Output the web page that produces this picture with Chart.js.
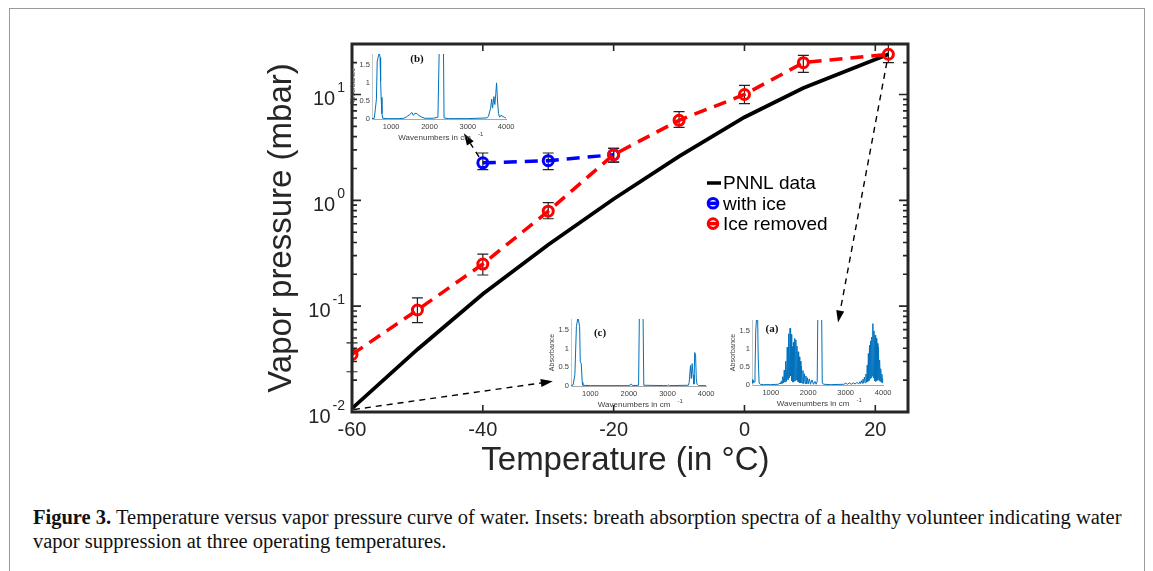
<!DOCTYPE html>
<html>
<head>
<meta charset="utf-8">
<script src="https://cdn.jsdelivr.net/npm/chart.js@4.4.1/dist/chart.umd.min.js"></script>
<style>
  html, body { margin: 0; padding: 0; background: #fff; }
  body { width: 1153px; height: 571px; position: relative; overflow: hidden; }
  #frame { position: absolute; left: 9px; top: 8px; width: 1134px; height: 590px; border: 1px solid #9a9a9a; }
  canvas { position: absolute; }
  #caption { position: absolute; left: 33px; top: 505px; font-family: "Liberation Serif", "Times New Roman", serif;
             font-size: 20.5px; line-height: 24px; color: #111; white-space: nowrap; }
</style>
</head>
<body>
<div id="frame"></div>
<canvas id="main" width="1153" height="490" style="left:0;top:0"></canvas>
<canvas id="insetB"></canvas>
<canvas id="insetC"></canvas>
<canvas id="insetA"></canvas>
<div id="caption"><b>Figure 3.</b> Temperature versus vapor pressure curve of water. Insets: breath absorption spectra of a healthy volunteer indicating water<br>vapor suppression at three operating temperatures.</div>
<script>
// main plot data (temperature in °C, pressure in mbar)
const temps = [-60, -50, -40, -30, -20, -10, 0, 9, 22];
const pnnl = [0.0108, 0.039, 0.13, 0.38, 1.03, 2.6, 6.1, 11.5, 24];
const iceRemoved = [0.035, 0.092, 0.25, 0.79, 2.7, 5.7, 10, 20, 24];
const iceRemovedLow = [0.024, 0.070, 0.197, 0.67, 2.3, 4.9, 8.2, 16.2, 20];
const iceRemovedHigh = [0.045, 0.12, 0.31, 0.95, 3.1, 6.9, 12.2, 23.4, 29.8];
const tempsIce = [-40, -30, -20];
const withIce = [2.26, 2.37, 2.7];
const withIceLow = [1.95, 1.95, 2.3];
const withIceHigh = [2.8, 2.8, 3.1];
const xTicks = [-60, -40, -20, 0, 20];
const yTicks = [0.01, 0.1, 1, 10];

// inset spectra [wavenumber, absorbance]
const insetXTicks = [1000, 2000, 3000, 4000];
const insetYTicks = [0, 0.5, 1, 1.5];
const spectrumB = [[500,0.01],[560,0.02],[590,0.3],[615,0.55],[636,1.6],[660,1.7],[690,1.85],[710,1.7],[725,1.05],[738,0.6],
  [760,0.15],[780,0.02],[900,0.01],[1200,0.01],[1330,0.02],[1400,0.06],[1480,0.12],[1543,0.18],[1580,0.1],[1620,0.16],
  [1670,0.15],[1720,0.1],[1797,0.05],[1880,0.02],[2100,0.02],[2220,0.05],[2264,2.5],[2360,2.5],[2380,0.03],[2500,0.01],
  [3000,0.01],[3500,0.03],[3540,0.08],[3594,0.3],[3622,0.55],[3645,0.3],[3680,0.62],[3705,0.4],[3730,0.7],[3750,1.0],
  [3775,0.5],[3800,0.15],[3830,0.05],[3860,0.1],[3900,0.08],[3950,0.05],[4000,0.02]];
const spectrumC = [[500,0.01],[554,0.03],[600,0.3],[640,1.6],[681,1.85],[723,1.6],[740,0.65],[766,0.6],[790,0.1],[806,0.02],
  [1000,0.01],[2000,0.01],[2066,0.05],[2090,0.01],[2250,0.02],[2277,2.5],[2360,2.5],[2385,0.02],[3000,0.01],[3020,0.03],
  [3040,0.01],[3540,0.02],[3561,0.1],[3594,0.55],[3615,0.2],[3637,0.6],[3660,0.3],[3685,0.05],[3703,0.9],[3725,0.85],
  [3745,0.2],[3763,0.05],[3800,0.01],[4000,0.01]];
const spectrumA = [[500,0.15],[520,0.05],[540,0.12],[560,0.08],[580,0.3],[600,1.5],[625,1.9],[650,1.9],[665,0.8],[690,0.05],
  [720,0.02],[800,0.01],[1000,0.01],[1200,0.02],[1250,0.05],
  [1260,0.03],[1280,0.10],[1300,0.04],[1320,0.23],[1340,0.06],[1360,0.41],[1380,0.08],[1400,0.66],[1420,0.10],[1440,1.05],
  [1460,0.15],[1480,1.42],[1500,0.2],[1515,1.57],[1530,0.25],[1545,1.40],[1560,0.12],[1575,1.06],[1590,0.08],[1605,1.18],
  [1620,0.1],[1640,1.29],[1655,0.12],[1670,1.25],[1685,0.15],[1700,1.08],[1715,0.1],[1730,0.92],[1745,0.08],[1760,0.78],
  [1775,0.06],[1790,0.66],[1805,0.06],[1820,0.52],[1840,0.05],[1860,0.40],[1880,0.04],[1900,0.31],[1920,0.04],[1940,0.25],
  [1960,0.03],[1980,0.2],[2000,0.03],[2030,0.17],[2060,0.02],[2100,0.14],[2140,0.02],[2180,0.1],[2210,0.02],[2240,0.1],
  [2265,3],[2350,3],[2375,0.05],[2420,0.02],[2600,0.01],[2950,0.02],[3000,0.05],[3050,0.02],[3100,0.06],[3150,0.02],
  [3200,0.06],[3250,0.03],[3300,0.07],[3350,0.03],
  [3380,0.09],[3400,0.04],[3420,0.12],[3440,0.05],[3460,0.16],[3480,0.05],[3500,0.22],[3520,0.06],[3540,0.3],[3560,0.08],
  [3575,0.55],[3590,0.1],[3605,0.87],[3620,0.12],[3635,1.1],[3650,0.18],[3665,1.22],[3680,0.2],[3695,1.33],[3710,0.25],
  [3725,1.70],[3740,0.2],[3755,1.5],[3770,0.12],[3785,1.38],[3800,0.1],[3815,1.29],[3830,0.12],[3845,1.15],[3860,0.15],
  [3875,1.05],[3890,0.12],[3905,0.69],[3920,0.1],[3935,0.45],[3950,0.08],[3965,0.3],[3980,0.06],[3995,0.18],[4000,0.09]];

const axisColor = '#262626';
const sans = '"Liberation Sans", Arial, sans-serif';
Chart.defaults.font.family = sans;
Chart.defaults.color = axisColor;

// dashed arrows from points to insets, in data units of the main axes
const arrows = [
  { from: [-40, 2.26], to: [-42.9, 4.3], gap: 7 },
  { from: [-60, 0.0105], to: [-29.3, 0.0195], gap: 2 },
  { from: [22, 24], to: [14.3, 0.07], gap: 8 }
];

const errorBars = {
  id: 'errorBars',
  beforeDatasetsDraw(chart) {
    const { ctx, scales: { x, y } } = chart;
    ctx.save();
    ctx.strokeStyle = '#222';
    ctx.lineWidth = 1.2;
    [[temps, iceRemovedLow, iceRemovedHigh], [tempsIce, withIceLow, withIceHigh]].forEach(([xs, lo, hi]) => {
      xs.forEach((t, i) => {
        const px = x.getPixelForValue(t);
        const p1 = y.getPixelForValue(lo[i]), p2 = y.getPixelForValue(hi[i]);
        ctx.beginPath();
        ctx.moveTo(px, p1); ctx.lineTo(px, p2);
        ctx.moveTo(px - 5.5, p1); ctx.lineTo(px + 5.5, p1);
        ctx.moveTo(px - 5.5, p2); ctx.lineTo(px + 5.5, p2);
        ctx.stroke();
      });
    });
    ctx.restore();
  }
};

const axesBox = {
  id: 'axesBox',
  afterDraw(chart) {
    const { ctx, chartArea: a, scales: { x, y } } = chart;
    ctx.save();
    ctx.strokeStyle = axisColor;
    ctx.lineWidth = 1.6;
    ctx.beginPath();
    xTicks.forEach(v => {
      const px = x.getPixelForValue(v);
      ctx.moveTo(px, a.bottom); ctx.lineTo(px, a.bottom - 7);
      ctx.moveTo(px, a.top); ctx.lineTo(px, a.top + 7);
    });
    for (let d = -2; d <= 1; d++) {
      for (let k = 1; k <= 9; k++) {
        const v = k * Math.pow(10, d);
        if (v > y.max) break;
        const py = y.getPixelForValue(v);
        const len = k === 1 ? 9 : 5;
        ctx.moveTo(a.left, py); ctx.lineTo(a.left + len, py);
        ctx.moveTo(a.right, py); ctx.lineTo(a.right - len, py);
      }
    }
    ctx.stroke();
    ctx.lineWidth = 3;
    ctx.strokeRect(a.left, a.top, a.right - a.left, a.bottom - a.top);

    // y tick labels 10^n
    ctx.fillStyle = axisColor;
    ctx.textBaseline = 'middle';
    ctx.textAlign = 'right';
    yTicks.forEach(v => {
      const py = y.getPixelForValue(v);
      const e = String(Math.round(Math.log10(v)));
      ctx.font = '14px ' + sans;
      const ew = ctx.measureText(e).width;
      ctx.fillText(e, a.left - 7, py - 6);
      ctx.font = '20px ' + sans;
      ctx.fillText('10', a.left - 9 - ew, py + 5);
    });

    // arrows
    ctx.strokeStyle = '#000';
    ctx.fillStyle = '#000';
    arrows.forEach(ar => {
      let x1 = x.getPixelForValue(ar.from[0]), y1 = y.getPixelForValue(ar.from[1]);
      const x2 = x.getPixelForValue(ar.to[0]), y2 = y.getPixelForValue(ar.to[1]);
      const ang = Math.atan2(y2 - y1, x2 - x1);
      x1 += ar.gap * Math.cos(ang); y1 += ar.gap * Math.sin(ang);
      const hl = 12, hw = 4;
      const bx = x2 - hl * Math.cos(ang), by = y2 - hl * Math.sin(ang);
      ctx.lineWidth = 1.4;
      ctx.setLineDash([6, 5]);
      ctx.beginPath(); ctx.moveTo(x1, y1); ctx.lineTo(bx, by); ctx.stroke();
      ctx.setLineDash([]);
      ctx.beginPath();
      ctx.moveTo(x2, y2);
      ctx.lineTo(bx + hw * Math.sin(ang), by - hw * Math.cos(ang));
      ctx.lineTo(bx - hw * Math.sin(ang), by + hw * Math.cos(ang));
      ctx.closePath(); ctx.fill();
    });

    // legend
    const lx = a.left + 355, ly = a.top + 139;
    [2, 1, 0].forEach((di, row) => {
      const ds = chart.data.datasets[di];
      const yy = ly + row * 20.3;
      ctx.strokeStyle = ds.borderColor;
      ctx.setLineDash([]);
      ctx.lineWidth = 3.5;
      ctx.beginPath();
      if (ds.pointRadius) { ctx.moveTo(lx, yy); ctx.lineTo(lx + 12, yy); }
      else { ctx.moveTo(lx, yy); ctx.lineTo(lx + 14, yy); }
      ctx.stroke();
      if (ds.pointRadius) {
        ctx.lineWidth = 3;
        ctx.beginPath(); ctx.arc(lx + 6, yy, 4.8, 0, 2 * Math.PI); ctx.stroke();
      }
      ctx.fillStyle = '#000';
      ctx.font = '19px ' + sans;
      ctx.textAlign = 'left';
      ctx.fillText(ds.label, lx + 16, yy + 1);
    });
    ctx.restore();
  }
};

const pts = (xs, ys) => xs.map((v, i) => ({ x: v, y: ys[i] }));

new Chart(document.getElementById('main'), {
  type: 'line',
  data: {
    datasets: [
      { label: 'Ice removed', data: pts(temps, iceRemoved), borderColor: '#ff0000', borderWidth: 3.5,
        borderDash: [13, 8], pointRadius: 5, pointBorderWidth: 3, pointBackgroundColor: 'rgba(0,0,0,0)',
        pointBorderColor: '#ff0000' },
      { label: 'with ice', data: pts(tempsIce, withIce), borderColor: '#0000ff', borderWidth: 3.5,
        borderDash: [13, 8], pointRadius: 5, pointBorderWidth: 3, pointBackgroundColor: 'rgba(0,0,0,0)',
        pointBorderColor: '#0000ff' },
      { label: 'PNNL data', data: pts(temps, pnnl), borderColor: '#000000', borderWidth: 3.8, pointRadius: 0 }
    ]
  },
  options: {
    responsive: false,
    animation: false,
    events: [],
    layout: { padding: { left: 262, top: 44, right: 245, bottom: 9 } },
    plugins: { legend: { display: false }, tooltip: { enabled: false } },
    scales: {
      x: {
        type: 'linear', min: -60, max: 25,
        afterBuildTicks: s => { s.ticks = xTicks.map(v => ({ value: v })); },
        afterFit: s => { s.height = 69; },
        grid: { display: false, drawTicks: false },
        border: { display: false },
        ticks: { font: { size: 20 }, padding: 6, maxRotation: 0, autoSkip: false },
        title: { display: true, text: 'Temperature (in °C) ', font: { size: 33 }, padding: 0 }
      },
      y: {
        type: 'logarithmic', min: 0.01, max: 30,
        afterFit: s => { s.width = 90; },
        grid: { display: false, drawTicks: false },
        border: { display: false },
        ticks: { display: false },
        title: { display: true, text: 'Vapor pressure (mbar)', font: { size: 33 }, padding: 0 }
      }
    }
  },
  plugins: [errorBars, axesBox]
});

// inset spectra
function inset(id, spectrum, tag, area, tagPos) {
  const cv = document.getElementById(id);
  const w = area.r - area.l + 23 + 8, h = area.b - area.t + 8 + 24;
  cv.width = w; cv.height = h;
  cv.style.left = (area.l - 23) + 'px';
  cv.style.top = (area.t - 8) + 'px';
  const extras = {
    id: 'insetExtras',
    afterDraw(chart) {
      const { ctx, chartArea: a } = chart;
      ctx.save();
      ctx.font = '8px ' + sans;
      const tw = ctx.measureText('Wavenumbers in cm').width;
      const sw = ctx.measureText('Wavenumbers in cm    ').width;
      const cx = (a.left + a.right) / 2;
      ctx.fillStyle = '#404040';
      ctx.textBaseline = 'middle';
      ctx.font = '6px ' + sans;
      ctx.fillText('-1', cx - sw / 2 + tw + 7, chart.height - 9);
      ctx.font = 'bold 11px "Liberation Serif", serif';
      ctx.fillStyle = '#111';
      ctx.textAlign = 'center';
      ctx.fillText(tag, a.left + tagPos[0], a.top + tagPos[1]);
      ctx.restore();
    }
  };
  new Chart(cv, {
    type: 'line',
    data: { datasets: [{ data: spectrum.map(p => ({ x: p[0], y: p[1] })), borderColor: '#0072BD',
      borderWidth: 1, pointRadius: 0, tension: 0 }] },
    options: {
      responsive: false, animation: false, events: [],
      layout: { padding: { left: 0, top: 8, right: 8, bottom: 0 } },
      plugins: { legend: { display: false }, tooltip: { enabled: false } },
      scales: {
        x: {
          type: 'linear', min: 500, max: 4000,
          afterBuildTicks: s => { s.ticks = insetXTicks.map(v => ({ value: v })); },
          afterFit: s => { s.height = 24; },
          grid: { display: false, drawTicks: false },
          border: { color: '#a8a8a8', width: 1 },
          ticks: { font: { size: 7.5 }, color: '#404040', padding: 3.5, maxRotation: 0, autoSkip: false,
                   callback: v => String(v) },
          title: { display: true, text: 'Wavenumbers in cm    ', font: { size: 8 }, color: '#404040', padding: 0 }
        },
        y: {
          min: 0, max: 1.8,
          afterBuildTicks: s => { s.ticks = insetYTicks.map(v => ({ value: v })); },
          afterFit: s => { s.width = 23; },
          grid: { display: false, drawTicks: false },
          border: { color: '#c8c8c8', width: 1 },
          ticks: { font: { size: 7.5 }, color: '#404040', padding: 2, callback: v => String(v) },
          title: { display: true, text: 'Absorbance', font: { size: 7 }, color: '#404040', padding: 0 }
        }
      }
    },
    plugins: [extras]
  });
}

inset('insetB', spectrumB, '(b)', { l: 372, t: 54, r: 510, b: 119 }, [45, 5]);
inset('insetC', spectrumC, '(c)', { l: 571, t: 319, r: 710, b: 386 }, [29, 14]);
inset('insetA', spectrumA, '(a)', { l: 752, t: 320, r: 887, b: 385 }, [20, 9]);
</script>
</body>
</html>
